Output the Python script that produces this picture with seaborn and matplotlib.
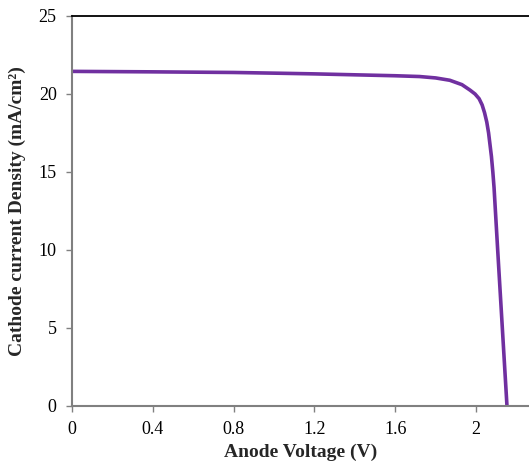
import matplotlib
matplotlib.use("Agg")
import matplotlib.pyplot as plt
import seaborn as sns
import pandas as pd

voltage = [0.0, 0.4, 0.8, 1.03, 1.2, 1.4, 1.6, 1.72, 1.80, 1.87, 1.93, 1.97, 1.995, 2.015, 2.03, 2.042, 2.053, 2.062, 2.076, 2.083, 2.089, 2.107, 2.130, 2.153]
current = [21.45, 21.42, 21.38, 21.33, 21.29, 21.23, 21.17, 21.12, 21.03, 20.88, 20.6, 20.25, 20.0, 19.7, 19.3, 18.8, 18.2, 17.5, 16.0, 15.0, 14.0, 10.0, 5.0, 0.0]

xticks = [0, 0.4, 0.8, 1.2, 1.6, 2.0]
xticklabels = ["0", "0.4", "0.8", "1.2", "1.6", "2"]
yticks = [0, 5, 10, 15, 20, 25]

df = pd.DataFrame({"Voltage": voltage, "Current": current})

sns.set_style("white")
plt.rcParams['font.family'] = ['Liberation Serif', 'DejaVu Serif']

fig = plt.figure(figsize=(5.29, 4.69), dpi=100)
ax = fig.add_axes([72/529, 1-406/469, 1-72/529, (406-16)/469])

sns.lineplot(data=df, x="Voltage", y="Current", ax=ax, color="#7030A0", linewidth=2.6, sort=False)

ax.set_xlim(0, 2.262)
ax.set_ylim(0, 25)
ax.set_xticks(xticks)
ax.set_xticklabels(xticklabels)
ax.set_yticks(yticks)

for s in ["left", "bottom"]:
    ax.spines[s].set_color("#808080")
    ax.spines[s].set_linewidth(1.5)
ax.spines["right"].set_visible(False)
ax.spines["top"].set_color("black")
ax.spines["top"].set_linewidth(1.3)

ax.tick_params(axis="both", which="major", direction="out", length=4, width=1, color="#808080",
               labelsize=13, labelcolor="black", bottom=True, left=True, pad=7)

ax.set_xlabel("Anode Voltage (V)", fontsize=14, fontweight="bold", labelpad=4)
ax.set_ylabel("Cathode current Density (mA/cm\u00b2)", fontsize=14, fontweight="bold", labelpad=9)

fig.savefig("out.png", dpi=100)
